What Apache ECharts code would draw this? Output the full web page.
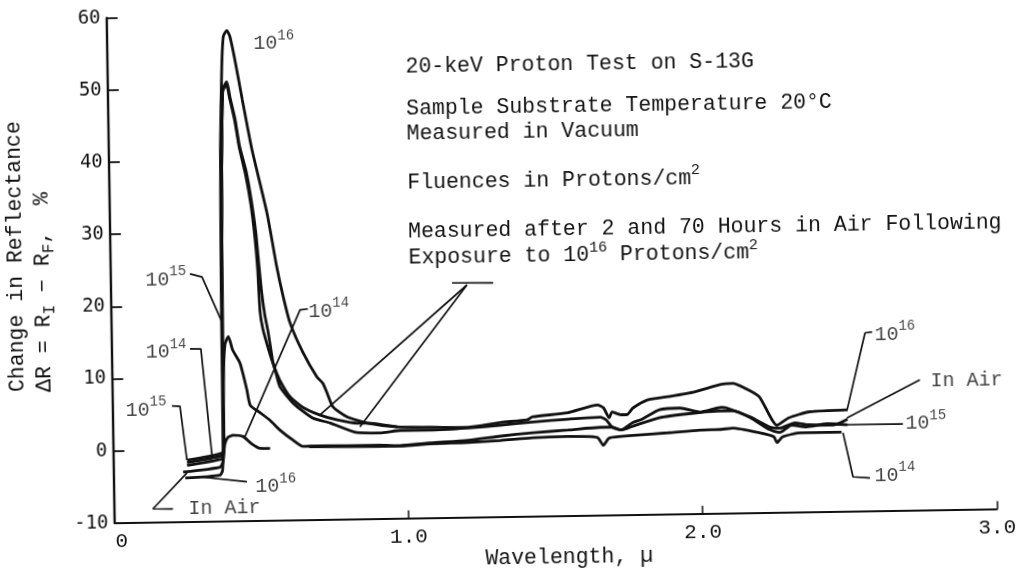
<!DOCTYPE html>
<html><head>
<meta charset="utf-8">
<title>20-keV Proton Test on S-13G</title>
<script src="https://cdn.jsdelivr.net/npm/echarts/dist/echarts.min.js"></script>
<style>
html,body{margin:0;padding:0;background:#fff;overflow:hidden}
/* the scanned figure sits a little askew, so the whole chart is turned with it */
#main{width:1018px;height:573px;transform:rotate(-0.9deg);transform-origin:509px 286.5px}
</style>
</head>
<body>
<div id="main"></div>
<script type="text/javascript">
// wavelength (micron), change in reflectance (%)
var curve1e16 = [[0.243,-3.92],[0.361,-3.59],[0.370,-3.0],[0.373,0],[0.375,20.7],[0.380,41.5],[0.389,53.0],[0.396,57.2],[0.408,58.0],[0.418,57.2],[0.434,53.9],[0.457,48.4],[0.487,41.5],[0.535,32.6],[0.565,25.2],[0.585,21.1],[0.607,17.4],[0.650,13.2],[0.696,9.8],[0.716,8.9],[0.730,7.5],[0.749,5.6],[0.796,4.2],[0.864,3.3],[0.966,2.7],[1.077,2.6],[1.204,2.5],[1.317,3.1],[1.407,3.4],[1.427,3.8],[1.547,4.3],[1.648,5.3],[1.668,4.9],[1.687,3.5],[1.697,4.3],[1.727,3.9],[1.747,3.9],[1.768,4.8],[1.818,5.9],[1.888,6.3],[1.978,6.9],[2.069,7.9],[2.109,8.0],[2.150,7.3],[2.198,6.1],[2.257,2.1],[2.297,3.1],[2.368,3.9],[2.498,4.1]];
var curveAir2h = [[0.236,-3.09],[0.362,-2.48],[0.372,-1.8],[0.376,0],[0.378,20],[0.383,38],[0.391,49.8],[0.405,50.9],[0.415,48.8],[0.431,45.8],[0.445,42.0],[0.466,38.5],[0.482,34.5],[0.496,29.9],[0.505,25.3],[0.513,21.5],[0.522,18.5],[0.533,16.0],[0.547,12.0],[0.557,10.4],[0.570,8.5],[0.614,6.2],[0.680,4.1],[0.738,3.4],[0.829,2.0],[0.907,1.9],[0.977,2.2],[1.078,2.2],[1.207,2.4],[1.317,2.7],[1.427,3.1],[1.547,3.4],[1.657,3.6],[1.677,3.2],[1.697,2.2],[1.727,1.8],[1.767,2.8],[1.797,3.2],[1.858,4.5],[1.928,4.7],[1.997,4.1],[2.068,4.7],[2.088,4.6],[2.167,3.3],[2.237,1.8],[2.267,1.7],[2.317,2.4],[2.367,2.1],[2.447,2.0],[2.497,2.8]];
var curveAir70h = [[0.250,-2.19],[0.369,-1.36],[0.374,-0.8],[0.376,0],[0.378,20],[0.383,38],[0.391,49.6],[0.404,50.5],[0.414,48.6],[0.430,45.5],[0.444,41.8],[0.464,38.0],[0.480,34.0],[0.492,29.5],[0.500,25.0],[0.506,19.0],[0.515,16.5],[0.531,14.0],[0.547,11.8],[0.570,9.4],[0.604,7.1],[0.647,5.6],[0.705,4.5],[0.762,3.8],[0.830,3.3],[0.864,3.3],[0.966,2.7]];
var curve1e15 = [[0.250,-1.44],[0.369,-0.54],[0.376,0.5],[0.378,9.6],[0.385,14.5],[0.397,15.6],[0.411,13.7],[0.435,11.9],[0.457,8.2],[0.468,6.0],[0.500,5.0],[0.534,3.9],[0.568,2.5],[0.611,1.1],[0.645,0.2],[0.666,0.25],[0.795,0.2],[0.906,0.2],[0.976,0.1],[1.076,0.4],[1.207,0.7],[1.317,1.2],[1.427,1.6],[1.547,1.9],[1.657,2.2],[1.697,2.2],[1.727,1.8],[1.767,2.3],[1.857,3.4],[1.958,3.9],[2.058,4.2],[2.108,4.2],[2.167,3.2],[2.227,1.6],[2.266,1.1],[2.307,2.1],[2.357,1.8],[2.428,2.2],[2.497,2.0]];
var curve1e14a = [[0.250,-1.79],[0.369,-0.91],[0.376,-0.2],[0.380,0.8],[0.390,1.6],[0.408,1.9],[0.442,1.7],[0.470,0.7],[0.499,0.03],[0.533,0.0]];
var curve1e14b = [[0.666,0.15],[0.806,0.06],[0.976,0.05],[1.076,0.29],[1.206,0.4],[1.316,0.6],[1.426,0.9],[1.546,1.0],[1.646,0.8],[1.666,-0.3],[1.686,0.7],[1.766,1.0],[1.886,1.3],[1.996,1.6],[2.066,1.65],[2.106,1.8],[2.196,1.1],[2.246,0.5],[2.256,-0.3],[2.276,0.5],[2.336,1.0],[2.476,1.0]];

// leader lines from the labels to the traces
var leaders = [
  [[0.270,24.36],[0.3105,23.91],[0.376,17.64]],
  [[0.266,13.97],[0.303,13.94],[0.335,-0.77]],
  [[0.2016,6.11],[0.2288,6.02],[0.2497,-1.41]],
  [[0.4525,-4.58],[0.293,-3.79]],
  [[0.1996,-8.17],[0.1315,-8.12],[0.249,-3.21]],
  [[0.669,19.25],[0.642,19.13],[0.448,1.66]],
  [[1.160,22.54],[1.30,22.45]],
  [[1.2107,22.23],[0.7043,4.54]],
  [[1.2107,22.23],[0.8395,2.79]],
  [[2.496,4.09],[2.561,14.71],[2.585,14.84]],
  [[2.495,2.98],[2.745,8.08]],
  [[2.461,2.03],[2.685,2.02]],
  [[2.481,0.91],[2.5125,-5.21],[2.570,-5.39]]
];

// label anchor x, y, text, which side of the anchor the text goes
var labels = [
  [0.4963,56.08,'10{s|16}','R'],
  [0.2587,23.54,'10{s|15}','L'],
  [0.2556,13.56,'10{s|14}','L'],
  [0.1845,5.57,'10{s|15}','L'],
  [0.4794,-5.29,'10{s|16}','R'],
  [0.2505,-8.2,'In Air','R'],
  [0.669,18.84,'10{s|14}','R'],
  [2.5915,14.42,'10{s|16}','R'],
  [2.779,7.92,'In Air','R'],
  [2.692,2.02,'10{s|15}','R'],
  [2.584,-5.12,'10{s|14}','R']
];

var notes = [
  '20-keV Proton Test on S-13G',
  'Sample Substrate Temperature 20°C',
  'Measured in Vacuum',
  'Fluences in Protons/cm{s|2}',
  'Measured after 2 and 70 Hours in Air Following',
  'Exposure to 10{s|16} Protons/cm{s|2}'
];
var notesY = [65.5, 107.5, 132.5, 181, 230.5, 256.5];

var ink = '#111';
var mono = '"Liberation Mono", "Courier New", Cousine, monospace';

var myChart = echarts.init(document.getElementById('main'));

var series = [];
[curve1e16, curveAir2h, curveAir70h, curve1e15, curve1e14a, curve1e14b].forEach(function (c) {
    series.push({
        type: 'line', data: c, symbol: 'none', smooth: 0.2, silent: true, z: 3,
        lineStyle: {color: ink, width: 2.8}
    });
});
leaders.forEach(function (l) {
    series.push({
        type: 'line', data: l, symbol: 'none', silent: true, z: 2,
        lineStyle: {color: ink, width: 1.7}
    });
});
series.push({
    type: 'scatter', symbolSize: 1, silent: true, z: 4,
    itemStyle: {color: 'transparent'},
    data: labels.map(function (l) {
        return {
            value: [l[0], l[1]],
            label: {
                show: true, position: l[3] === 'L' ? 'left' : 'right', distance: 0,
                formatter: l[2], fontFamily: mono, fontSize: 20, lineHeight: 30, color: ink,
                rich: {s: {fontFamily: mono, fontSize: 14, lineHeight: 14, verticalAlign: 'top', color: ink}}
            }
        };
    })
});

var graphics = notes.map(function (t, i) {
    return {
        type: 'text', x: 409, y: notesY[i], silent: true,
        style: {
            text: t, fill: ink, fontFamily: mono, fontSize: 21.5, lineHeight: 30,
            align: 'left', verticalAlign: 'middle',
            rich: {s: {fontFamily: mono, fontSize: 15, lineHeight: 15, verticalAlign: 'top', fill: ink}}
        }
    };
});
graphics.push({
    type: 'text', x: 16.3, y: 384.3, rotation: Math.PI / 2, silent: true,
    style: {text: 'Change in Reflectance', fill: ink, fontFamily: mono, fontSize: 21.5,
            align: 'left', verticalAlign: 'middle'}
});
graphics.push({
    type: 'text', x: 43.3, y: 384.7, rotation: Math.PI / 2, silent: true,
    style: {
        text: 'ΔR = R{b|I} − R{b|F},  %', fill: ink, fontFamily: mono, fontSize: 21.5, lineHeight: 28,
        align: 'left', verticalAlign: 'middle',
        rich: {b: {fontFamily: mono, fontSize: 16, lineHeight: 16, verticalAlign: 'bottom', fill: ink}}
    }
});
graphics.push({
    type: 'text', x: 565, y: 558, silent: true,
    style: {text: 'Wavelength, µ', fill: ink, fontFamily: mono, fontSize: 21.5,
            align: 'center', verticalAlign: 'middle'}
});

option = {
    animation: false,
    backgroundColor: '#fff',
    grid: {left: 110.8, right: 24.6, top: 11.7, bottom: 56.2},
    xAxis: {
        type: 'value', min: 0, max: 3, interval: 1,
        axisLine: {show: true, onZero: false, lineStyle: {color: ink, width: 1.8}},
        axisTick: {show: true, inside: true, length: 8, lineStyle: {color: ink, width: 1.5}},
        axisLabel: {
            color: ink, fontFamily: mono, fontSize: 21, margin: 8,
            formatter: function (v) { return v === 0 ? '{z|0}' : v.toFixed(1); },
            rich: {z: {fontFamily: mono, fontSize: 21, padding: [0, 0, 0, 14], color: ink}}
        },
        splitLine: {show: false}
    },
    yAxis: {
        type: 'value', min: -10, max: 60, interval: 10,
        axisLine: {show: true, onZero: false, lineStyle: {color: ink, width: 2.4}},
        axisTick: {show: true, inside: true, length: 11, lineStyle: {color: ink, width: 1.8}},
        axisLabel: {color: ink, fontFamily: '"DejaVu Sans Mono", monospace', fontSize: 19, margin: 6},
        splitLine: {show: false}
    },
    graphic: graphics,
    series: series
};
myChart.setOption(option);
</script>
</body>
</html>
